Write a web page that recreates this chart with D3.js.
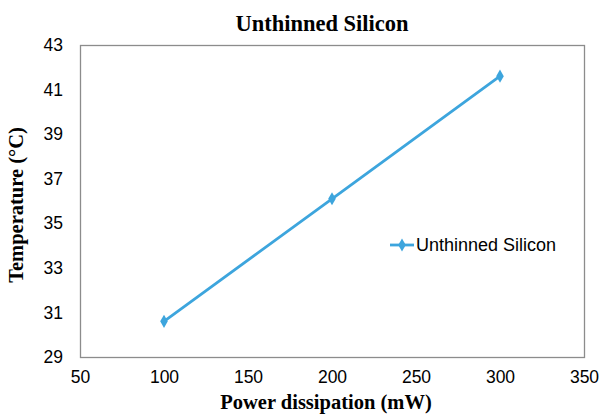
<!DOCTYPE html>
<html>
<head>
<meta charset="utf-8">
<script src="https://cdn.jsdelivr.net/npm/d3@7"></script>
<style>
  body { margin: 0; background: #fff; }
  svg { display: block; }
</style>
</head>
<body>
<svg width="600" height="416"></svg>
<script>
// data
const powerMW = [100, 200, 300]
const tempC = [30.6, 36.1, 41.6]
const seriesName = 'Unthinned Silicon'
const xTicks = [50, 100, 150, 200, 250, 300, 350]
const yTicks = [29, 31, 33, 35, 37, 39, 41, 43]

const svg = d3.select('svg')
const plot = {left: 80, right: 584, top: 45, bottom: 357}
const lineColor = '#3DA5DD'
const serif = 'Liberation Serif, Times New Roman, serif'
const sans = 'Liberation Sans, Arial, sans-serif'

let x = d3.scaleLinear().domain([50, 350]).range([plot.left, plot.right])
let y = d3.scaleLinear().domain([29, 43]).range([plot.bottom, plot.top])

// plot border
svg.append('rect')
  .attr('x', plot.left + 0.5).attr('y', plot.top + 0.5)
  .attr('width', plot.right - plot.left).attr('height', plot.bottom - plot.top)
  .attr('fill', 'none').attr('stroke', '#8c8c8c').attr('stroke-width', 1.3)

// axes, labels only
let xAxis = svg.append('g').attr('transform', `translate(0,${plot.bottom})`)
  .call(d3.axisBottom(x).tickValues(xTicks).tickSize(0).tickPadding(14))
let yAxis = svg.append('g').attr('transform', `translate(${plot.left},0)`)
  .call(d3.axisLeft(y).tickValues(yTicks).tickSize(0).tickPadding(17))
for (let ax of [xAxis, yAxis]) {
  ax.select('.domain').remove()
  ax.selectAll('text')
    .attr('font-family', sans)
    .attr('font-size', 17.5).attr('fill', '#000')
}

// series
let line = d3.line().x((d, i) => x(powerMW[i])).y(d => y(d))
svg.append('path').datum(tempC)
  .attr('d', line).attr('fill', 'none')
  .attr('stroke', lineColor).attr('stroke-width', 2.8)

let diamond = d3.symbol().type(d3.symbolDiamond).size(50)
svg.selectAll('.pt').data(tempC).enter().append('path')
  .attr('class', 'pt')
  .attr('transform', (d, i) => `translate(${x(powerMW[i])},${y(d)})`)
  .attr('d', diamond).attr('fill', lineColor)

// titles
svg.append('text').attr('x', 322).attr('y', 31)
  .attr('text-anchor', 'middle')
  .attr('font-family', serif)
  .attr('font-weight', 'bold').attr('font-size', 22.5)
  .text('Unthinned Silicon')

svg.append('text').attr('x', 326).attr('y', 409)
  .attr('text-anchor', 'middle')
  .attr('font-family', serif)
  .attr('font-weight', 'bold').attr('font-size', 20.5)
  .text('Power dissipation (mW)')

svg.append('text')
  .attr('transform', 'translate(23,205) rotate(-90)')
  .attr('text-anchor', 'middle')
  .attr('font-family', serif)
  .attr('font-weight', 'bold').attr('font-size', 20.5)
  .text('Temperature (°C)')

// legend
let leg = svg.append('g').attr('transform', 'translate(390,245)')
leg.append('line').attr('x1', 0).attr('x2', 24).attr('y1', 0).attr('y2', 0)
  .attr('stroke', lineColor).attr('stroke-width', 2.8)
leg.append('path').attr('transform', 'translate(12,0)')
  .attr('d', diamond).attr('fill', lineColor)
leg.append('text').attr('x', 26).attr('y', 0).attr('dy', '0.35em')
  .attr('font-family', sans)
  .attr('font-size', 18).attr('fill', '#000')
  .text(seriesName)
</script>
</body>
</html>
